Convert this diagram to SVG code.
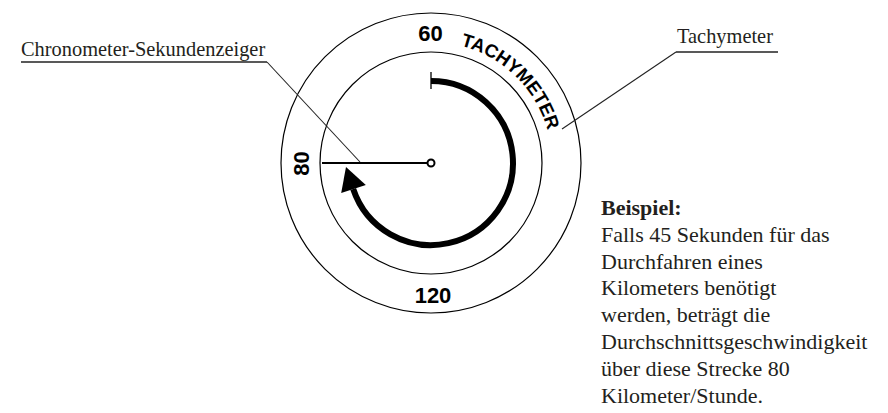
<svg xmlns="http://www.w3.org/2000/svg" width="888" height="413" viewBox="0 0 888 413">
<style>
.ring{fill:none;stroke:#000;stroke-width:1.2}
.lead{fill:none;stroke:#222;stroke-width:1.1}
.ul{fill:none;stroke:#222;stroke-width:1.5}
.lbl{font-family:"Liberation Serif","Times New Roman",serif;font-size:20.4px;fill:#231f20}
.para{font-family:"Liberation Serif","Times New Roman",serif;font-size:22px;fill:#231f20}
.dial{font-family:"Liberation Sans",Arial,sans-serif;font-weight:bold;fill:#000}
</style>
<defs>
<path id="tachyArc" d="M 460.5 45.6 A 121 121 0 0 1 552 163"/>
</defs>
<rect width="888" height="413" fill="#fff"/>
<g id="dial">
<circle class="ring" cx="431" cy="163" r="150"/>
<circle class="ring" cx="431" cy="163" r="111"/>
<text class="dial" x="430.5" y="41" font-size="22" text-anchor="middle">60</text>
<text class="dial" x="433" y="303" font-size="22" text-anchor="middle">120</text>
<text class="dial" transform="translate(309 163.5) rotate(-90)" font-size="22" text-anchor="middle">80</text>
<text class="dial" font-size="18.5"><textPath href="#tachyArc">TACHYMETER</textPath></text>
</g>
<g id="chrono-hand">
<line x1="431" y1="72" x2="431" y2="89" stroke="#000" stroke-width="1.3"/>
<path d="M 431 81 A 82 82 0 1 1 353.2 189" fill="none" stroke="#000" stroke-width="6"/>
<polygon points="346,167 365.8,184.9 341.2,193.1" fill="#000"/>
<line x1="322" y1="163" x2="428" y2="163" stroke="#000" stroke-width="2"/>
<circle cx="431" cy="163" r="3.5" fill="#fff" stroke="#000" stroke-width="2"/>
</g>
<g id="connectors">
<polyline class="lead" points="267,62 360,162"/>
<line class="ul" x1="21" y1="62" x2="267" y2="62"/>
<polyline class="lead" points="676,52 562,129"/>
<line class="ul" x1="676" y1="52" x2="778" y2="52"/>
</g>
<g id="label-chrono">
<text class="lbl" x="21" y="56">Chronometer-Sekundenzeiger</text>
</g>
<g id="label-tachy">
<text class="lbl" x="677" y="43">Tachymeter</text>
</g>
<g id="example">
<text class="para" x="601" y="215" font-weight="bold">Beispiel:</text>
<text class="para" x="601" y="242">Falls 45 Sekunden für das</text>
<text class="para" x="601" y="268.6">Durchfahren eines</text>
<text class="para" x="601" y="295.4">Kilometers benötigt</text>
<text class="para" x="601" y="322.2">werden, beträgt die</text>
<text class="para" x="601" y="349">Durchschnittsgeschwindigkeit</text>
<text class="para" x="601" y="375.8">über diese Strecke 80</text>
<text class="para" x="601" y="402.6">Kilometer/Stunde.</text>
</g>
</svg>
